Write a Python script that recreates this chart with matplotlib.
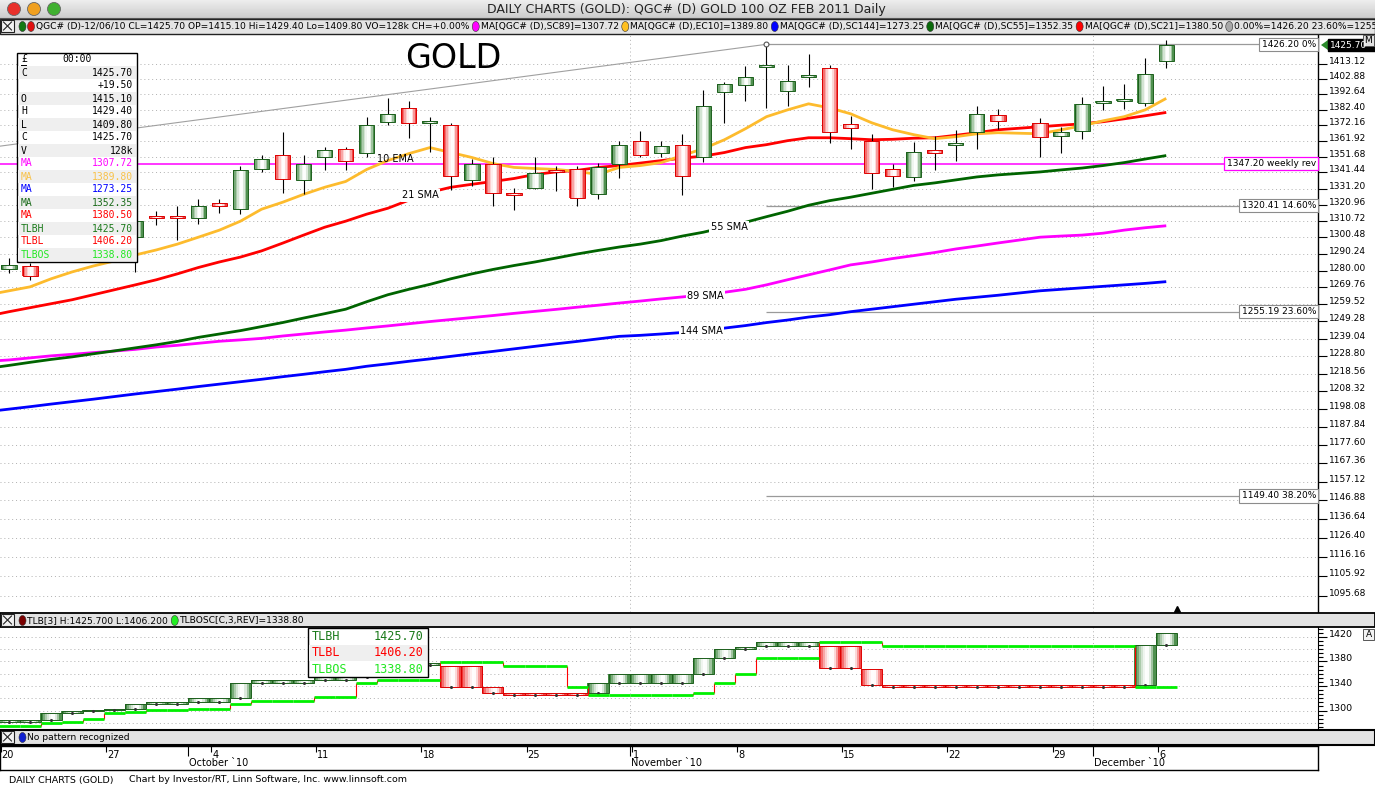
"""Investor/RT style daily GOLD chart: candles, moving averages, fib levels and a 3-line-break pane."""

import numpy as np
import matplotlib

matplotlib.use("Agg")
import matplotlib.colors as mcolors
import matplotlib.pyplot as plt
import matplotlib.transforms as mtransforms
from matplotlib.patches import Ellipse, Polygon, Rectangle
from matplotlib.ticker import FixedLocator, NullFormatter, NullLocator

plt.rcParams["font.family"] = ["DejaVu Sans"]

W, H = 1375, 787

# ------------------------------------------------------------------ data
# trading-day index counted from Mon 20 Sep 2010; day 48 (Thanksgiving) has no bar
BAR_DAYS = list(range(0, 48)) + list(range(49, 56))
MA_DAYS = [-1] + BAR_DAYS
TLB_DAYS = list(range(0, 56))

OPEN = [1281.0, 1282.8, 1288.0, 1294.0, 1297.0, 1295.0, 1300.6, 1313.7, 1313.7, 1312.4,
        1321.9, 1318.1, 1343.4, 1352.4, 1336.4, 1351.7, 1356.8, 1354.3, 1374.4, 1383.5,
        1373.7, 1372.4, 1336.4, 1347.2, 1328.2, 1331.3, 1342.8, 1343.4, 1327.5, 1346.6,
        1362.0, 1354.3, 1359.4, 1351.1, 1394.1, 1398.7, 1411.4, 1394.8, 1404.7, 1410.0,
        1373.0, 1362.0, 1343.4, 1338.3, 1356.2, 1359.4, 1367.8, 1378.9,
        1373.7, 1365.2, 1368.5, 1386.8, 1388.1, 1386.8, 1415.1]
HIGH = [1287.7, 1284.7, 1296.0, 1299.0, 1301.0, 1303.0, 1315.0, 1316.8, 1320.0, 1324.4,
        1324.4, 1345.9, 1353.0, 1367.8, 1353.0, 1358.1, 1358.1, 1377.7, 1390.1, 1388.1,
        1377.7, 1373.7, 1350.4, 1351.7, 1331.3, 1351.7, 1345.9, 1345.3, 1347.8, 1362.0,
        1368.5, 1362.0, 1366.5, 1395.4, 1400.7, 1411.4, 1426.2, 1412.0, 1419.4, 1412.0,
        1378.3, 1366.5, 1346.6, 1361.3, 1365.2, 1369.1, 1384.8, 1382.8,
        1377.0, 1371.1, 1390.8, 1398.1, 1399.4, 1416.7, 1429.4]
LOW = [1278.6, 1274.4, 1287.0, 1290.0, 1292.0, 1291.0, 1279.2, 1308.1, 1298.8, 1308.7,
       1315.6, 1315.0, 1341.5, 1328.2, 1327.5, 1342.8, 1342.8, 1351.7, 1372.4, 1363.9,
       1354.9, 1330.1, 1332.6, 1319.9, 1317.5, 1330.7, 1329.4, 1319.9, 1324.4, 1337.6,
       1351.1, 1351.7, 1326.9, 1348.5, 1373.7, 1388.1, 1383.5, 1384.8, 1397.4, 1360.7,
       1356.8, 1330.7, 1332.0, 1335.7, 1342.8, 1349.1, 1356.8, 1369.8,
       1351.7, 1354.3, 1363.3, 1382.2, 1382.8, 1384.8, 1409.8]
CLOSE = [1283.4, 1276.8, 1294.0, 1297.0, 1295.0, 1300.0, 1310.6, 1312.4, 1312.4, 1320.0,
         1320.0, 1342.8, 1349.8, 1337.0, 1347.2, 1356.2, 1349.1, 1372.4, 1379.6, 1373.7,
         1374.4, 1338.9, 1346.6, 1328.2, 1326.9, 1340.8, 1341.5, 1325.0, 1344.7, 1359.4,
         1353.0, 1358.8, 1339.5, 1384.8, 1399.4, 1404.0, 1412.0, 1401.4, 1405.4, 1367.8,
         1370.4, 1340.8, 1338.9, 1354.9, 1354.3, 1360.0, 1379.6, 1375.0,
         1364.6, 1367.8, 1386.2, 1388.1, 1389.4, 1406.2, 1425.7]

EMA10 = [1265.3, 1267.7, 1270.1, 1275.0, 1279.2, 1282.8, 1285.9, 1289.6, 1292.7, 1296.3,
         1300.6, 1305.0, 1310.6, 1318.1, 1322.5, 1327.5, 1332.0, 1335.7, 1343.4, 1349.1,
         1353.6, 1357.5, 1354.3, 1351.1, 1347.2, 1344.7, 1344.0, 1343.4, 1342.1, 1340.2,
         1344.7, 1345.9, 1347.8, 1352.4, 1356.8, 1362.6, 1369.8, 1377.7, 1382.2, 1386.2,
         1383.5, 1379.6, 1373.7, 1369.1, 1365.9, 1363.3, 1364.6, 1366.5, 1367.2,
         1366.5, 1369.1, 1371.7, 1375.0, 1377.7, 1382.2, 1389.8]
SMA21 = [1252.5, 1255.1, 1257.5, 1259.9, 1262.3, 1265.3, 1268.3, 1271.3, 1274.4, 1278.0,
         1281.9, 1285.3, 1288.3, 1292.1, 1296.9, 1301.9, 1306.8, 1310.6, 1315.0, 1318.7,
         1323.8, 1328.8, 1332.0, 1333.9, 1335.7, 1337.6, 1340.2, 1341.8, 1342.8, 1344.7,
         1345.9, 1347.5, 1349.1, 1350.7, 1352.0, 1354.3, 1357.5, 1359.4, 1362.0, 1363.9,
         1363.9, 1363.3, 1362.6, 1362.9, 1363.6, 1363.9, 1365.5, 1367.2, 1369.1,
         1371.1, 1372.1, 1373.0, 1374.4, 1376.3, 1378.3, 1380.5]
SMA55 = [1221.6, 1223.3, 1225.1, 1226.8, 1228.3, 1230.1, 1231.8, 1233.6, 1235.4, 1237.4,
         1239.8, 1241.8, 1243.8, 1246.2, 1248.6, 1251.3, 1253.9, 1256.6, 1261.1, 1265.3,
         1268.6, 1271.6, 1275.0, 1278.0, 1280.7, 1283.1, 1285.3, 1287.7, 1290.2, 1292.4,
         1294.5, 1296.3, 1298.5, 1301.3, 1303.7, 1306.8, 1309.9, 1313.4, 1316.8, 1320.6,
         1323.5, 1325.7, 1328.2, 1330.7, 1333.2, 1334.8, 1336.7, 1338.6, 1339.9,
         1341.8, 1343.1, 1344.3, 1345.9, 1347.8, 1350.1, 1352.35]
SMA89 = [1225.7, 1226.5, 1227.7, 1228.9, 1229.8, 1230.8, 1231.7, 1232.7, 1234.1, 1235.1,
         1236.3, 1237.5, 1238.3, 1239.2, 1240.6, 1241.8, 1243.0, 1244.1, 1245.4, 1246.6,
         1247.9, 1249.2, 1250.4, 1251.6, 1252.8, 1254.1, 1255.3, 1256.5, 1257.8, 1259.0,
         1260.3, 1261.5, 1262.8, 1264.0, 1265.3, 1266.8, 1268.6, 1271.3, 1274.4, 1277.4,
         1280.4, 1283.5, 1285.3, 1287.4, 1289.2, 1291.1, 1293.3, 1295.1, 1297.0,
         1300.6, 1301.3, 1301.9, 1303.1, 1305.0, 1306.5, 1307.72]
SMA144 = [1196.6, 1198.0, 1199.4, 1200.9, 1202.3, 1203.7, 1205.2, 1206.7, 1208.1, 1209.5,
          1211.0, 1212.4, 1213.8, 1215.2, 1216.7, 1218.1, 1219.6, 1221.0, 1222.8, 1224.2,
          1225.7, 1227.1, 1228.6, 1230.1, 1231.5, 1233.0, 1234.5, 1236.0, 1237.4, 1238.9,
          1240.4, 1241.0, 1241.8, 1242.7, 1243.6, 1245.3, 1246.8, 1248.6, 1250.1, 1251.9,
          1253.3, 1255.1, 1256.6, 1258.1, 1259.6, 1261.1, 1262.6, 1263.8, 1265.0,
          1267.7, 1268.6, 1269.5, 1270.4, 1271.3, 1272.2, 1273.25]

# three line break bricks (one per calendar trading slot) and the reversal line
TLB_LO = [1281.6, 1281.6, 1284.8, 1296.2, 1299.5, 1301.1, 1302.7, 1310.9, 1310.9, 1314.0,
          1314.0, 1320.7, 1345.1, 1345.1, 1345.1, 1350.0, 1350.0, 1354.9, 1374.4, 1374.4,
          1374.4, 1338.6, 1338.6, 1328.8, 1325.5, 1325.5, 1325.5, 1325.5, 1328.8, 1345.1,
          1345.1, 1345.1, 1345.1, 1359.7, 1385.8, 1400.5, 1405.3, 1405.3, 1405.3, 1369.5,
          1369.5, 1341.8, 1338.6, 1338.6, 1338.6, 1338.6, 1338.6, 1338.6, 1338.6, 1338.6,
          1338.6, 1338.6, 1338.6, 1338.6, 1341.8, 1406.2]
TLB_HI = [1284.8, 1284.8, 1296.2, 1299.5, 1301.1, 1302.7, 1310.9, 1314.0, 1314.0, 1320.7,
          1320.7, 1345.1, 1350.0, 1350.0, 1350.0, 1354.9, 1354.9, 1374.4, 1377.7, 1377.7,
          1377.7, 1372.8, 1372.8, 1338.6, 1328.8, 1328.8, 1328.8, 1328.8, 1345.1, 1359.7,
          1359.7, 1359.7, 1359.7, 1385.8, 1400.5, 1403.7, 1411.9, 1411.9, 1411.9, 1405.3,
          1405.3, 1367.9, 1341.8, 1341.8, 1341.8, 1341.8, 1341.8, 1341.8, 1341.8, 1341.8,
          1341.8, 1341.8, 1341.8, 1341.8, 1406.2, 1425.7]
TLB_UP = [1] * 21 + [0] * 7 + [1] * 11 + [0] * 15 + [1] * 2
TLBOS = [1275.0, 1275.0, 1280.0, 1281.6, 1286.4, 1296.2, 1297.8, 1301.1, 1301.1, 1302.7,
         1302.7, 1310.9, 1315.8, 1315.8, 1315.8, 1322.3, 1322.3, 1345.1, 1350.0, 1350.0,
         1350.0, 1379.3, 1379.3, 1379.3, 1372.8, 1372.8, 1372.8, 1338.6, 1325.5, 1325.5,
         1325.5, 1325.5, 1325.5, 1328.8, 1345.1, 1359.7, 1385.8, 1385.8, 1385.8, 1411.9,
         1411.9, 1411.9, 1405.3, 1405.3, 1405.3, 1405.3, 1405.3, 1405.3, 1405.3, 1405.3,
         1405.3, 1405.3, 1405.3, 1405.3, 1338.8, 1338.8]

MAIN_TICKS = np.round(1095.68 + 10.24 * np.arange(32), 2)
LOWER_TICKS = [1300, 1340, 1380, 1420]
FIB_LEVELS = [1426.20, 1320.41, 1255.19, 1149.40]
FIB_LABELS = ["1426.20 0%", "1320.41 14.60%", "1255.19 23.60%", "1149.40 38.20%"]
SWING_DAY = 36
WEEKLY_REV = 1347.20
TREND_DAYS = [-1, 36]
TREND_PRICES = [1357.4, 1426.2]

MONDAY_DAYS = [0, 5, 10, 15, 20, 25, 30, 35, 40, 45, 50, 55]
MONDAY_LABELS = ["20", "27", "4", "11", "18", "25", "1", "8", "15", "22", "29", "6"]
MONTH_DAYS = [9, 30, 52]
MONTH_LABELS = ["October `10", "November `10", "December `10"]

MAGENTA, ORANGE, BLUE = "#ff00ff", "#fdbb2d", "#0000ff"
DKGREEN, RED, LTGREEN = "#006400", "#ff0000", "#22e822"

LEGEND_ROWS = [
    ("C", "1425.70", "black"), ("", "+19.50", "black"), ("O", "1415.10", "black"),
    ("H", "1429.40", "black"), ("L", "1409.80", "black"), ("C", "1425.70", "black"),
    ("V", "128k", "black"), ("MA", "1307.72", MAGENTA), ("MA", "1389.80", "#f8c24a"),
    ("MA", "1273.25", BLUE), ("MA", "1352.35", "#1a6b1a"), ("MA", "1380.50", RED),
    ("TLBH", "1425.70", "#1a7a1a"), ("TLBL", "1406.20", RED), ("TLBOS", "1338.80", LTGREEN),
]
TLB_LEGEND = [("TLBH", "1425.70", "#1a7a1a"), ("TLBL", "1406.20", RED), ("TLBOS", "1338.80", LTGREEN)]

INFO_PARTS = [("d", "#137a13"), ("d", "#e01010"),
              "QGC# (D)-12/06/10 CL=1425.70 OP=1415.10 Hi=1429.40 Lo=1409.80 VO=128k CH=+0.00% ",
              ("d", MAGENTA), "MA[QGC# (D),SC89]=1307.72 ",
              ("d", "#ffc020"), "MA[QGC# (D),EC10]=1389.80 ",
              ("d", BLUE), "MA[QGC# (D),SC144]=1273.25 ",
              ("d", "#0a6a0a"), "MA[QGC# (D),SC55]=1352.35 ",
              ("d", RED), "MA[QGC# (D),SC21]=1380.50 ",
              ("d", "#a8a8a8"), "0.00%=1426.20 23.60%=1255"]

GREEN_EDGE, GREEN_LINE = "#2a7a2a", "#1b5e1b"
RED_EDGE, RED_LINE = "#ee1c1c", "#dd0000"

# ------------------------------------------------------------------ layout
PX_PER_DAY = 21.04
X_LEFT = -0.43
X_RIGHT = X_LEFT + 1318 / PX_PER_DAY
DOT_W = 8.5

fig = plt.figure(figsize=(W / 100, H / 100), dpi=100)
fig.patch.set_facecolor("white")


def px_axes(x0, y0, x1, y1):
    return fig.add_axes([x0 / W, 1 - y1 / H, (x1 - x0) / W, (y1 - y0) / H])


ax = px_axes(0, 35, 1318, 612)
axl = px_axes(0, 627, 1318, 729)
axx = px_axes(0, 746, 1318, 770)
ov = fig.add_axes([0, 0, 1, 1])
ov.set_xlim(0, W)
ov.set_ylim(H, 0)
ov.axis("off")
ov.patch.set_visible(False)
ov.set_zorder(10)


def shade(t):
    peak = 0.6
    d = (t - peak) / peak if t < peak else (t - peak) / (1 - peak)
    return max(0.0, 1 - d * d)


def gradient_bars(a, xs, lo, hi, width, edges, outlines, n=10, z=3):
    xs = np.asarray(xs, float)
    lo = np.asarray(lo, float)
    hi = np.asarray(hi, float)
    rgb = np.array([mcolors.to_rgb(c) for c in edges])
    sw = width / n
    for k in range(n):
        w = shade((k + 0.5) / n) ** 1.2
        cols = rgb * (1 - w) + w
        a.bar(xs - width / 2 + (k + 0.5) * sw, hi - lo, width=sw * 1.2, bottom=lo,
              color=cols, linewidth=0, zorder=z)
    a.bar(xs, hi - lo, width=width, bottom=lo, fill=False, edgecolor=outlines,
          linewidth=0.7, zorder=z + 0.1)


# ------------------------------------------------------------------ main pane
ax.set_yscale("log")
ax.set_xlim(X_LEFT, X_RIGHT)
ax.set_ylim(1087.3, 1432.55)
ax.yaxis.set_major_locator(FixedLocator(MAIN_TICKS))
ax.yaxis.set_minor_locator(NullLocator())
ax.yaxis.set_major_formatter(NullFormatter())
ax.yaxis.set_minor_formatter(NullFormatter())
ax.yaxis.tick_right()
ax.tick_params(axis="y", length=6.5, width=0.8, direction="out", color="black")
ax.set_xticks([])
for s in ("left", "top", "bottom"):
    ax.spines[s].set_visible(False)
ax.spines["right"].set_linewidth(1.0)
ax.grid(axis="y", ls=(0, (1, 3)), color="#b0b0b0", lw=0.7)
ax.set_axisbelow(True)
for d in MONTH_DAYS[1:]:
    ax.axvline(d - 0.5, ls=(0, (1, 3)), color="#b0b0b0", lw=0.7, zorder=0.5)

yl = mtransforms.blended_transform_factory(ax.transAxes, ax.transData)
for v in MAIN_TICKS:
    ax.text(1 + 11 / 1318, v, f"{v:.2f}", transform=yl, fontsize=6.5, ha="left", va="baseline")

# trend line, fib levels, weekly reversal
ax.plot(TREND_DAYS, TREND_PRICES, color="#a0a0a0", lw=0.8, zorder=1)
for lvl, lab in zip(FIB_LEVELS, FIB_LABELS):
    ax.hlines(lvl, SWING_DAY, X_RIGHT, color="#9a9a9a", lw=0.9, zorder=1)
    ax.text(1 - 2 / 1318, lvl, lab, transform=yl, ha="right", va="center", fontsize=6.5, zorder=6,
            bbox=dict(boxstyle="square,pad=0.25", fc="white", ec="#8c8c8c", lw=0.8))
ax.axhline(WEEKLY_REV, color=MAGENTA, lw=1.1, zorder=1.5)
ax.text(1 - 2 / 1318, WEEKLY_REV, "1347.20 weekly rev", transform=yl, ha="right", va="center",
        fontsize=6.5, zorder=6, bbox=dict(boxstyle="square,pad=0.25", fc="white", ec=MAGENTA, lw=0.9))
ax.plot([SWING_DAY], [FIB_LEVELS[0]], "o", ms=3.5, mfc="white", mec="#555555", mew=0.8, zorder=5)

# moving averages
for vals, col in [(SMA144, BLUE), (SMA89, MAGENTA), (SMA55, DKGREEN), (SMA21, RED), (EMA10, ORANGE)]:
    ax.plot(MA_DAYS, vals, color=col, lw=2.0, zorder=2, solid_capstyle="butt")

ma_tags = [("10 EMA", 18.37, 1350.4, False), ("21 SMA", 19.56, 1326.9, True),
           ("55 SMA", 34.22, 1306.8, True), ("89 SMA", 33.10, 1264.6, True),
           ("144 SMA", 32.91, 1243.8, True)]
for txt, xd, yd, boxed in ma_tags:
    kw = dict(bbox=dict(boxstyle="square,pad=0.15", fc="white", ec="none")) if boxed else {}
    ax.text(xd, yd, txt, fontsize=7, ha="center", va="center", zorder=4, **kw)

# candles
up = np.array(CLOSE) >= np.array(OPEN)
bodies = []
for o, c in zip(OPEN, CLOSE):
    lo, hi = min(o, c), max(o, c)
    if hi - lo < 1.4:
        mid = (hi + lo) / 2
        lo, hi = mid - 0.7, mid + 0.7
    bodies.append((lo, hi))
bodies = np.array(bodies)
ax.vlines(BAR_DAYS, LOW, HIGH, color="black", lw=0.8, zorder=2.5)
gradient_bars(ax, BAR_DAYS, bodies[:, 0], bodies[:, 1], 0.72,
              [GREEN_EDGE if u else RED_EDGE for u in up],
              [GREEN_LINE if u else RED_LINE for u in up])
ax.plot([55.5], [0.006], marker="^", ms=5, color="black",
        transform=mtransforms.blended_transform_factory(ax.transData, ax.transAxes), clip_on=False)

# ------------------------------------------------------------------ line-break pane
axl.set_xlim(X_LEFT, X_RIGHT)
axl.set_ylim(1270, 1436)
axl.yaxis.tick_right()
axl.yaxis.set_major_locator(FixedLocator(LOWER_TICKS))
axl.yaxis.set_minor_locator(FixedLocator(1300 + 40 / 6 * np.arange(-4, 21)))
axl.yaxis.set_major_formatter(NullFormatter())
axl.tick_params(axis="y", which="major", length=6.5, width=0.8, direction="out")
axl.tick_params(axis="y", which="minor", length=3.5, width=0.8, direction="out")
axl.set_xticks([])
for s in ("left", "top", "bottom"):
    axl.spines[s].set_visible(False)
axl.hlines(np.arange(1280, 1421, 20), X_LEFT, X_RIGHT, ls=(0, (1, 3)), color="#b0b0b0", lw=0.7, zorder=0.5)
for d in MONTH_DAYS[1:]:
    axl.axvline(d - 0.5, ls=(0, (1, 3)), color="#b0b0b0", lw=0.7, zorder=0.5)
yl2 = mtransforms.blended_transform_factory(axl.transAxes, axl.transData)
for v in LOWER_TICKS:
    axl.text(1 + 11 / 1318, v, f"{v}", transform=yl2, fontsize=6.8, ha="left", va="baseline")

gradient_bars(axl, TLB_DAYS, TLB_LO, TLB_HI, 1.0,
              [GREEN_EDGE if u else RED_EDGE for u in TLB_UP],
              [GREEN_LINE if u else RED_LINE for u in TLB_UP], z=2)
axl.plot(TLB_DAYS, TLB_LO, ls="none", marker="o", ms=1.2, color="#333333", zorder=2.5)
tld = np.array(TLB_DAYS, float)
tlbos = np.array(TLBOS)
for d in range(len(TLBOS) - 1):
    if TLBOS[d] != TLBOS[d + 1]:
        axl.vlines(d + 0.5, TLBOS[d], TLBOS[d + 1], color="red", lw=0.8, zorder=3)
axl.hlines(tlbos, tld - 0.5, tld + 0.5, color="#00f000", lw=2.0, zorder=3.5)

# ------------------------------------------------------------------ date band
axx.set_xlim(X_LEFT, X_RIGHT)
axx.set_ylim(1, 0)
axx.set_xticks([])
axx.set_yticks([])
for s in axx.spines.values():
    s.set_linewidth(1.0)
for d, lab in zip(MONDAY_DAYS, MONDAY_LABELS):
    axx.vlines(d - 0.4, 0, 0.25, color="black", lw=0.8)
    axx.text(d - 0.35, 0.36, lab, fontsize=7, ha="left", va="center")
for d, lab in zip(MONTH_DAYS, MONTH_LABELS):
    axx.vlines(d - 0.5, 0, 0.42, color="black", lw=0.8)
    axx.text(d - 0.45, 0.7, lab, fontsize=7, ha="left", va="center")

# ------------------------------------------------------------------ window chrome
r = fig.canvas.get_renderer()


def text_width(s, fs, family="DejaVu Sans"):
    t = ov.text(0, 0, s, fontsize=fs, family=family)
    w = t.get_window_extent(r).width
    t.remove()
    return w


def fit_size(parts, width):
    texts = [p for p in parts if not isinstance(p, tuple)]
    ndots = len(parts) - len(texts)
    return 10 * (width - ndots * DOT_W) / sum(text_width(t, 10) for t in texts)


def xbox(x, y):
    ov.add_patch(Rectangle((x, y), 13, 12, fc="#f2f2f2", ec="#222222", lw=0.8))
    ov.plot([x + 2.5, x + 10.5], [y + 2, y + 10], color="#222222", lw=0.8)
    ov.plot([x + 2.5, x + 10.5], [y + 10, y + 2], color="#222222", lw=0.8)


def seq_text(x, y, parts, fs):
    for p in parts:
        if isinstance(p, tuple):
            ov.add_patch(Ellipse((x + 3.5, y), 7, 10, fc=p[1], ec="#333333", lw=0.4))
            x += DOT_W
        else:
            t = ov.text(x, y, p, fontsize=fs, ha="left", va="center")
            x += t.get_window_extent(r).width
    return x


title = "DAILY CHARTS (GOLD): QGC# (D) GOLD 100 OZ FEB 2011 Daily"
grad = np.linspace(0.93, 0.80, 20)[:, None] * np.ones((20, 2))
ov.imshow(grad, extent=[0, W, 18, 0], cmap="gray", vmin=0, vmax=1, aspect="auto", zorder=0)
ov.plot([0, W], [18, 18], color="#555555", lw=0.8)
for cx, col in [(14, "#e8302a"), (34, "#f0a020"), (54, "#40b030")]:
    ov.add_patch(Ellipse((cx, 9), 13, 13, fc=col, ec="#666666", lw=0.6))
ov.text(686.5, 9.5, title, fontsize=10 * 397 / text_width(title, 10), ha="center", va="center",
        color="#222222")

ov.add_patch(Rectangle((0, 18.5), W, 15.5, fc="#e4e4e4", ec="#222222", lw=1.0))
xbox(1, 20)
seq_text(19, 26.5, INFO_PARTS, fit_size(INFO_PARTS, 1370 - 19))

ov.text(453, 58, "GOLD", fontsize=24, ha="center", va="center", color="black")

# data window
lx0, ly0 = 17, 53
ov.add_patch(Rectangle((lx0, ly0), 120, 209, fc="white", ec="black", lw=1.0, zorder=1))
mono = dict(family="DejaVu Sans Mono", fontsize=7, va="center", zorder=3)
ov.text(21, 59.5, "£", ha="left", **mono)
ov.plot([21, 26], [64.5, 64.5], color="black", lw=0.7, zorder=3)
ov.text(77, 59.5, "00:00", ha="center", **mono)
for k, (lab, val, col) in enumerate(LEGEND_ROWS, start=1):
    yc = 59.5 + 13 * k
    if k % 2 == 1:
        ov.add_patch(Rectangle((lx0 + 1, yc - 6.5), 118, 13, fc="#efefef", ec="none", zorder=2))
    ov.text(21, yc, lab, ha="left", color=col, **mono)
    ov.text(133, yc, val, ha="right", color=col, **mono)

# price flags on the right axis
ov.add_patch(Polygon([(1321, 45), (1328, 40), (1328, 50)], closed=True, fc="#2a8a2a", ec="none"))
ov.add_patch(Rectangle((1328, 39), 47, 12, fc="black", ec="black"))
ov.text(1330, 45, "1425.70", fontsize=6.5, color="white", ha="left", va="center")
ov.add_patch(Rectangle((1363, 35), 11, 11, fc="#e0e0e0", ec="#555555", lw=0.7))
ov.text(1368.5, 40.5, "M", fontsize=6.5, ha="center", va="center")

# lower pane header
tlb_parts = [("d", "#7a0000"), "TLB[3] H:1425.700 L:1406.200 ", ("d", "#22ee22"), "TLBOSC[C,3,REV]=1338.80"]
ov.add_patch(Rectangle((0, 613), W, 14, fc="#e3e3e3", ec="black", lw=1.3))
xbox(1, 614)
seq_text(19, 620.5, tlb_parts, fit_size(tlb_parts, 305 - 19))

# line-break data window
ov.add_patch(Rectangle((308, 628), 120, 49, fc="white", ec="black", lw=1.0, zorder=1))
ov.add_patch(Rectangle((309, 645), 118, 16, fc="#efefef", ec="none", zorder=2))
for k, (lab, val, col) in enumerate(TLB_LEGEND):
    yc = 636.5 + 16.3 * k
    ov.text(312, yc, lab, family="DejaVu Sans Mono", fontsize=8.5, color=col, ha="left", va="center", zorder=3)
    ov.text(424, yc, val, family="DejaVu Sans Mono", fontsize=8.5, color=col, ha="right", va="center", zorder=3)
ov.add_patch(Rectangle((1363, 629), 11, 11, fc="#f2f2f2", ec="#555555", lw=0.7))
ov.text(1368.5, 634.5, "A", fontsize=6.5, ha="center", va="center")

# pattern bar and footer
pat_parts = [("d", "#1020d0"), "No pattern recognized"]
ov.add_patch(Rectangle((0, 730), W, 14.5, fc="#e3e3e3", ec="black", lw=1.5))
xbox(1, 731)
seq_text(19, 737.5, pat_parts, fit_size(pat_parts, 130 - 19))

fs_foot = 10 * 105 / text_width("DAILY CHARTS (GOLD)", 10)
ov.text(9, 780, "DAILY CHARTS (GOLD)", fontsize=fs_foot, ha="left", va="center")
ov.text(129, 780, "Chart by Investor/RT, Linn Software, Inc. www.linnsoft.com", fontsize=fs_foot,
        ha="left", va="center")

fig.savefig("out.png", dpi=100, facecolor="white")
